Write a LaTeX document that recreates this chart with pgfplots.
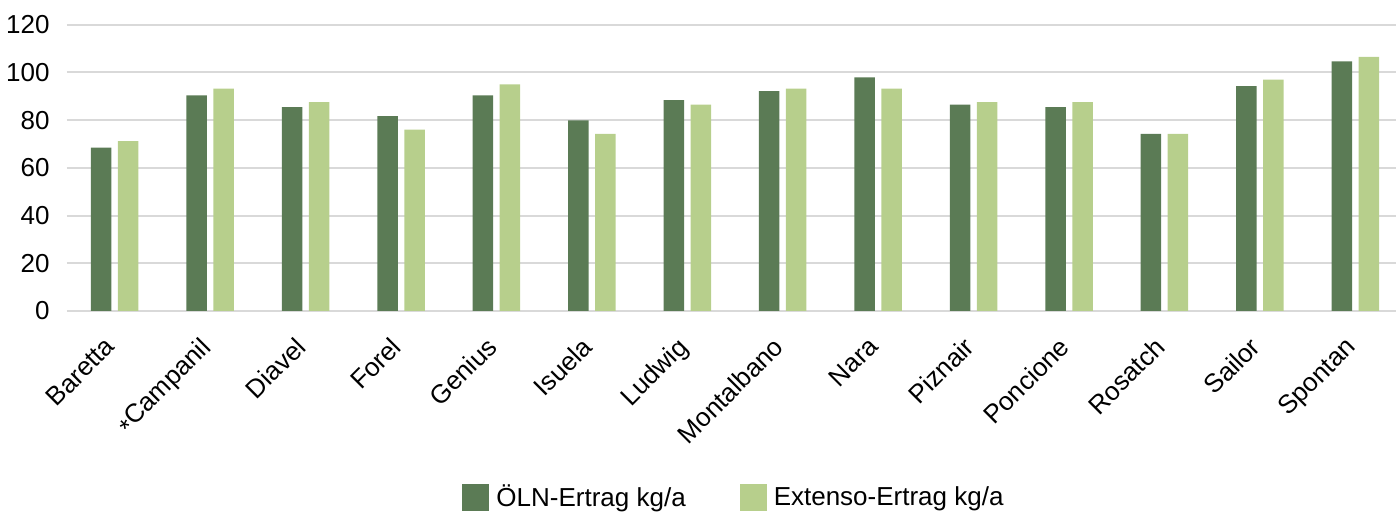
\documentclass[border=0pt]{standalone}
\usepackage{fontspec}
\setmainfont{Liberation Sans}
\usepackage{pgfplots}
\pgfplotsset{compat=1.18}
\usetikzlibrary{calc}
\definecolor{oeln}{HTML}{5B7B55}
\definecolor{ext}{HTML}{B7CF8C}
\definecolor{gridgray}{HTML}{D9D9D9}
\newcommand{\chartfont}{\fontsize{13}{15.5}\selectfont}
\begin{document}
\chartfont
\begin{tikzpicture}
\begin{axis}[
    name=ax,
    scale only axis,
    width=668pt, height=143.15pt,
    ymin=0, ymax=120,
    xmin=-0.5, xmax=13.5,
    ytick={0,20,...,120},
    xtick={0,...,13},
    xticklabels={Baretta,{\raisebox{-0.35ex}{*}Campanil},Diavel,Forel,Genius,Isuela,Ludwig,Montalbano,Nara,Piznair,Poncione,Rosatch,Sailor,Spontan},
    ybar=3.25pt,
    bar width=10.25pt,
    axis line style={draw=none},
    major tick length=0pt,
    ymajorgrids,
    major grid style={draw=gridgray, line width=1pt},
    /pgf/number format/assume math mode=true,
    every tick label/.append style={font=\chartfont},
    yticklabel style={inner sep=0pt, xshift=-8.5pt},
    xticklabel style={rotate=45, anchor=north east, inner sep=0pt, yshift=-4.5pt, xshift=-12.5pt},
    legend style={at={(0.5,-0.653)}, anchor=center, draw=none, font=\chartfont,
        legend columns=2,
        /tikz/every odd column/.append style={column sep=1.5pt},
        /tikz/every even column/.append style={column sep=25pt}},
    legend image code/.code={\fill[#1] (0pt,-6.75pt) rectangle (13.5pt,6.75pt);},
]
\addplot[fill=oeln, draw=none] coordinates {
  (0,68.5) (1,90.4) (2,85.5) (3,81.7) (4,90.4) (5,79.9) (6,88.4)
  (7,92.2) (8,97.9) (9,86.5) (10,85.5) (11,74.2) (12,94.2) (13,104.6)
};
\addplot[fill=ext, draw=none] coordinates {
  (0,71.2) (1,93.2) (2,87.5) (3,76.0) (4,95.0) (5,74.2) (6,86.5)
  (7,93.2) (8,93.2) (9,87.5) (10,87.5) (11,74.2) (12,97.0) (13,106.5)
};
\legend{ÖLN-Ertrag kg/a, Extenso-Ertrag kg/a}
\end{axis}
\pgfresetboundingbox
\path ($(ax.south west)+(-33.5pt,-101pt)$) rectangle ($(ax.north east)+(-3.5pt,12.35pt)$);
\end{tikzpicture}
\end{document}
